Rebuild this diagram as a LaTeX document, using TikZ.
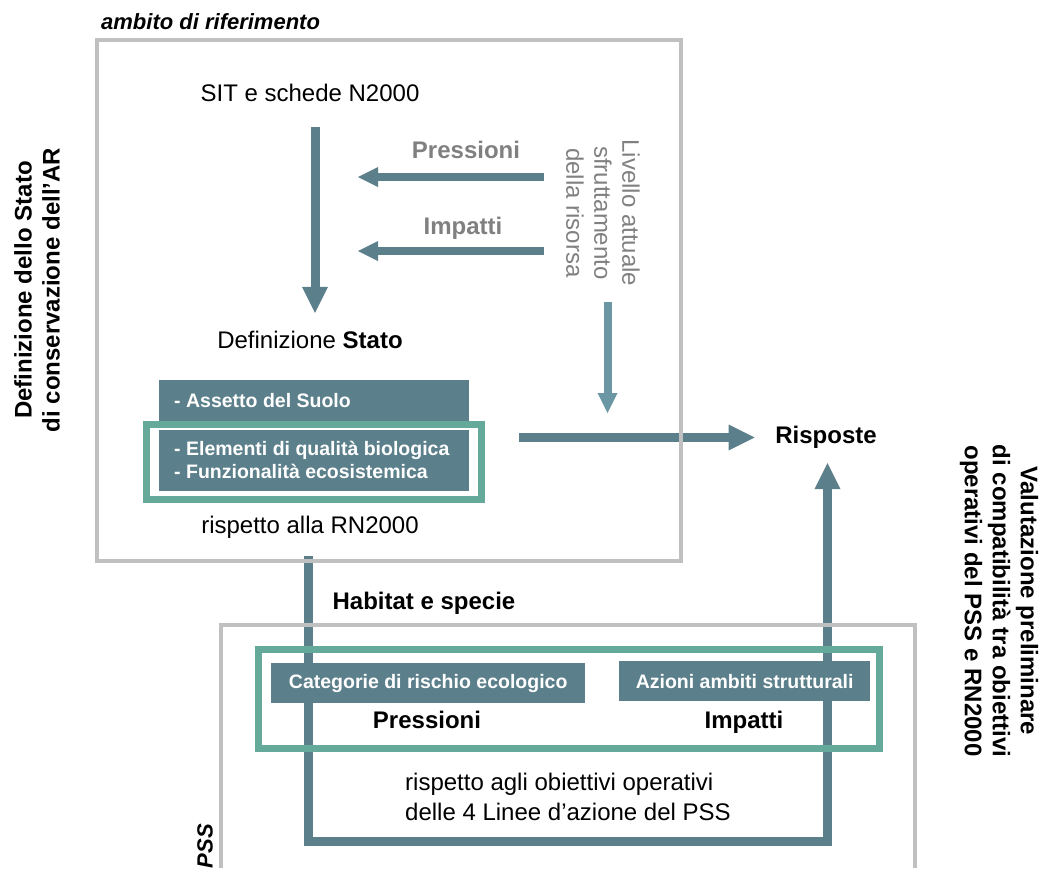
\documentclass[tikz,border=0pt]{standalone}
\usepackage{fontspec}
\setmainfont{Liberation Sans}
\usetikzlibrary{arrows.meta}
\definecolor{steel}{HTML}{5B7F8B}
\definecolor{steellight}{HTML}{6A97A3}
\definecolor{tealframe}{HTML}{65A99B}
\definecolor{boxline}{HTML}{C0C0C0}
\definecolor{greytxt}{HTML}{808080}

\begin{document}
\begin{tikzpicture}[x=1pt,y=-1pt,
  lab/.style={inner sep=0pt,font=\fontsize{24}{28}\selectfont,text height=17pt,text depth=5pt},
  labb/.style={lab,font=\bfseries\fontsize{24}{28}\selectfont},
  labgb/.style={labb,text=greytxt},
  vtext/.style={inner sep=0pt,align=center,font=\bfseries\fontsize{24}{28}\selectfont},
  corner/.style={inner sep=0pt,font=\bfseries\itshape\fontsize{22}{26}\selectfont},
  flow/.style={draw=steel,line width=9pt,line join=miter,
    -{Triangle[length=26pt,width=26pt,line width=0pt]}},
  flowsmall/.style={draw=steel,line width=8pt,
    -{Triangle[length=20pt,width=20pt,line width=0pt]}},
  flowlight/.style={draw=steellight,line width=8pt,
    -{Triangle[length=20pt,width=20pt,line width=0pt]}},
  greybox/.style={draw=boxline,line width=4pt},
  tframe/.style={draw=tealframe,line width=7pt},
  darkbox/.style={fill=steel,text=white,inner sep=0pt,
    font=\bfseries\fontsize{19.5}{23}\selectfont},
  boxtext/.style={inner sep=0pt,anchor=west,align=left,text=white,
    font=\bfseries\fontsize{19.5}{23}\selectfont},
]
\useasboundingbox (0,0) rectangle (1039,868);

% ---- text labels ----
\node[corner,anchor=west] (ambito) at (101,22) {ambito di riferimento};
\node[lab] (sit) at (310,95) {SIT e schede N2000};
\node[lab] (stato) at (310,342) {Definizione \textbf{Stato}};
\node[labgb] (plab) at (466,152) {Pressioni};
\node[labgb] (ilab) at (463,228) {Impatti};
\node[inner sep=0pt,align=center,rotate=-90,text=greytxt,
  font=\fontsize{24}{28}\selectfont] (livello) at (603,213)
  {Livello attuale\\sfruttamento\\della risorsa};
\node[lab] (rn) at (310,527) {rispetto alla RN2000};
\node[labb] (risposte) at (826,437) {Risposte};
\node[labb] (habitat) at (424,603) {Habitat e specie};
\node[vtext,rotate=90] (defar) at (37,290)
  {Definizione dello Stato\\di conservazione dell’AR};
\node[vtext,rotate=-90] (valut) at (999,601)
  {Valutazione preliminare\\di compatibilità tra obiettivi\\operativi del PSS e RN2000};
\node[corner,rotate=90] (pss) at (205,846) {PSS};

% ---- free ends of the flows ----
\coordinate (pfrom) at (544,177);
\coordinate (pto) at (358,177);
\coordinate (ifrom) at (544,251);
\coordinate (ito) at (358,251);
\coordinate (lfrom) at (607.5,302);
\coordinate (lto) at (607.5,413);
\coordinate (rfrom) at (519,437.5);
\coordinate (loopstart) at (308.5,556);

% ---- flows ----
\draw[flow] ([xshift=5pt,yshift=-21pt]sit.south) -- ([xshift=5pt,yshift=18pt]stato.north);
\draw[flowsmall] (pfrom) -- (pto);
\draw[flowsmall] (ifrom) -- (ito);
\draw[flowlight] (lfrom) -- (lto);
\draw[flow] (rfrom) -- ([xshift=-20.5pt]risposte.west |- rfrom);
\draw[flow] (loopstart) -- (308.5,841) -| ([xshift=1.5pt,yshift=-15pt]risposte.south);

% ---- reference frames ----
\draw[greybox] (97,40) rectangle (681,561);
\draw[greybox] (915,868) -- (915,624.5) -- (221,624.5) -- (221,868);

% ---- state block ----
\node[darkbox,anchor=north west,minimum width=310pt,minimum height=111pt]
  (statebox) at (159,380) {};
\draw[tframe] (146.7,424.5) rectangle (481.7,499);
\draw[white,line width=2.5pt] (151.5,429) rectangle (477,494.5);
\node[boxtext] (suolo) at (174,400.5) {- Assetto del Suolo};
\node[boxtext] (qualita) at (174,459.5)
  {- Elementi di qualità biologica\\- Funzionalità ecosistemica};

% ---- PSS block ----
\draw[tframe] (258.5,649) rectangle (879,748);
\node[darkbox,anchor=north west,minimum width=314pt,minimum height=40pt]
  (cat) at (271,663) {Categorie di rischio ecologico};
\node[darkbox,anchor=north west,minimum width=251pt,minimum height=40pt]
  (azioni) at (619,661) {Azioni ambiti strutturali};
\node[labb] (pres) at (427,722) {Pressioni};
\node[labb] (imp) at (744,722) {Impatti};
\node[inner sep=0pt,anchor=west,align=left,font=\fontsize{24}{30}\selectfont]
  (obiettivi) at (405,797)
  {rispetto agli obiettivi operativi\\delle 4 Linee d’azione del PSS};
\end{tikzpicture}
\end{document}
